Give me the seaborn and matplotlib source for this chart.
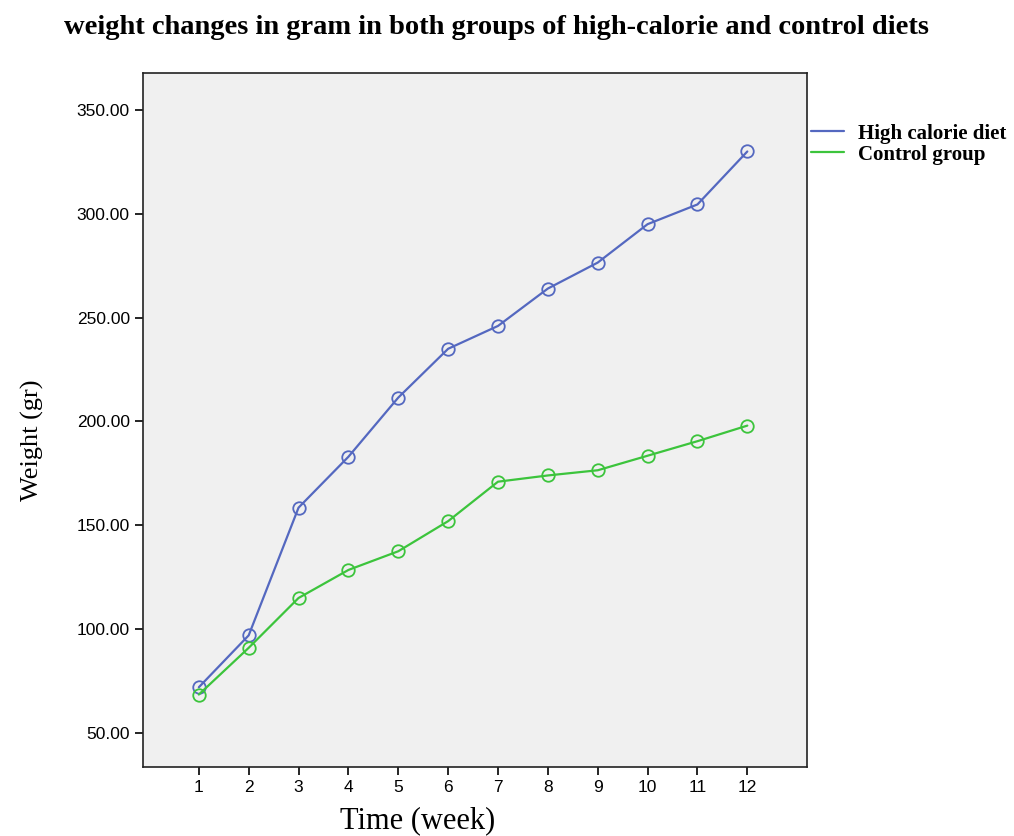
import numpy as np
import pandas as pd
import seaborn as sns
import matplotlib.pyplot as plt
from matplotlib.lines import Line2D

# data
weeks = [1, 2, 3, 4, 5, 6, 7, 8, 9, 10, 11, 12]
high_calorie = [72.0, 97.0, 158.5, 183.0, 211.5, 235.0, 246.0, 264.0, 276.5, 295.0, 304.5, 330.0]
control = [68.5, 91.0, 115.0, 128.5, 137.5, 152.0, 171.0, 174.0, 176.5, 183.5, 190.5, 198.0]
groups = ["High calorie diet", "Control group"]
y_ticks = [50, 100, 150, 200, 250, 300, 350]

df = pd.DataFrame({
    "week": weeks * 2,
    "weight": high_calorie + control,
    "group": [groups[0]] * len(weeks) + [groups[1]] * len(weeks),
})

sns.set_style("ticks")
plt.rcParams["font.family"] = ["Liberation Sans", "DejaVu Sans"]
plt.rcParams["text.color"] = "black"
plt.rcParams["axes.labelcolor"] = "black"

fig = plt.figure(figsize=(10.14, 8.36), dpi=100)
ax = fig.add_axes([0.141, 0.0825, 0.655, 0.8302])
ax.set_facecolor("#f0f0f0")

palette = {groups[0]: "#5468c0", groups[1]: "#3cc43c"}
sns.lineplot(data=df, x="week", y="weight", hue="group", palette=palette,
             marker="o", markersize=9, markerfacecolor="none", markeredgewidth=1.3,
             linewidth=1.6, ax=ax, legend=False)
# marker edges in the line colour
for line in ax.lines:
    line.set_markeredgecolor(line.get_color())

ax.set_xlim(-0.12, 13.2)
ax.set_ylim(33.6, 367.8)
ax.set_xticks(weeks)
ax.set_yticks(y_ticks)
ax.set_yticklabels([f"{v:.2f}" for v in y_ticks])
ax.tick_params(axis="both", labelsize=12.5, length=6, width=1.2, direction="out", colors="black")
for s in ax.spines.values():
    s.set_linewidth(1.2)
    s.set_color("#222222")

ax.set_xlabel("Time (week)", family="Liberation Serif", fontsize=22)
ax.xaxis.set_label_coords(0.414, -0.057)
ax.set_ylabel("Weight (gr)", family="Liberation Serif", fontsize=19, va="center")
ax.yaxis.set_label_coords(-0.166, 0.471)

fig.text(0.49, 1 - 28 / 836, "weight changes in gram in both groups of high-calorie and control diets",
         family="Liberation Serif", fontsize=20.5, fontweight="bold", ha="center", va="center")

# legend outside on the right, no frame
handles = [Line2D([], [], color=palette[g], linewidth=1.6) for g in groups]
fig.legend(handles, groups, loc="upper left", bbox_to_anchor=(0.796, 0.857),
           frameon=False, handlelength=1.55, handletextpad=0.7, labelspacing=0.05,
           borderaxespad=0, borderpad=0.2,
           prop={"family": "Liberation Serif", "size": 15, "weight": "bold"})

fig.savefig("out.png", dpi=100)
